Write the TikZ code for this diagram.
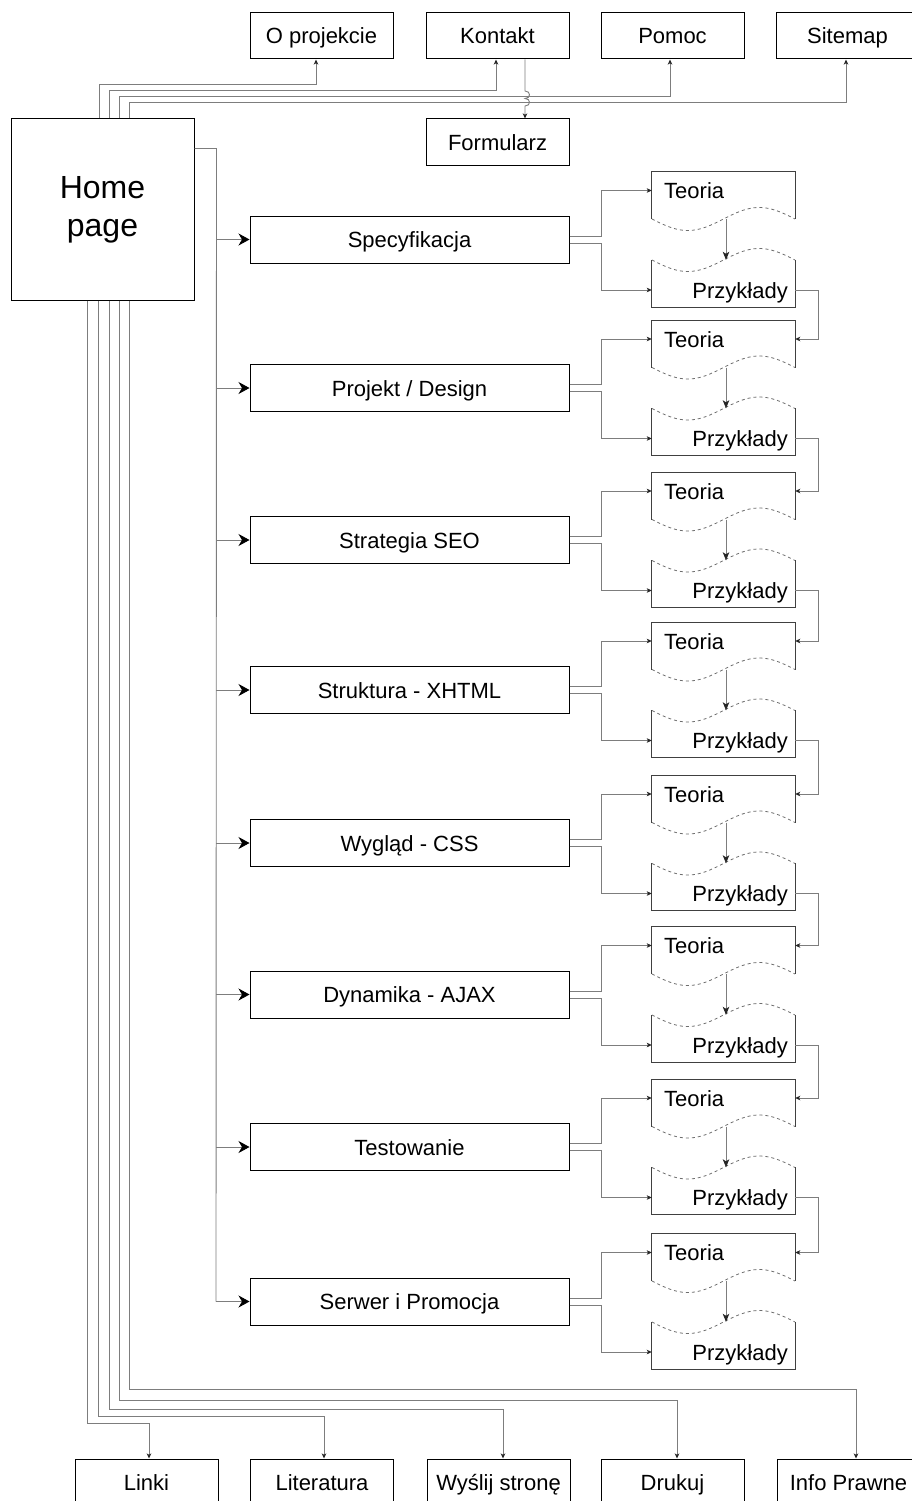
\documentclass[tikz,border=0pt]{standalone}
\usepackage{fontspec}
\setmainfont{Liberation Sans}
\usetikzlibrary{arrows.meta}
\definecolor{conngray}{RGB}{125,125,125}
\definecolor{wavegray}{RGB}{110,110,110}
\begin{document}
\begin{tikzpicture}[x=1pt,y=-1pt,
  box/.style={draw=black, line width=1pt, minimum width=143pt, minimum height=46pt, inner sep=0pt, text height=16pt, text depth=0pt, font=\fontsize{22}{26}\selectfont},
  mainbox/.style={box, minimum width=319pt, minimum height=47pt},
  homebox/.style={draw=black, line width=1pt, minimum width=183pt, minimum height=181pt, inner sep=0pt, align=center, font=\fontsize{32}{38}\selectfont},
  docnode/.style={minimum width=143pt, minimum height=47pt, inner sep=0pt},
  doctext/.style={inner sep=0pt, text height=16pt, text depth=0pt, font=\fontsize{22}{26}\selectfont},
  docborder/.style={draw=black!75, line width=0.9pt},
  wave/.style={draw=wavegray, line width=0.8pt, dash pattern=on 3pt off 3pt},
  conn/.style={draw=conngray, line width=0.9pt},
  sarr/.style={-{Stealth[length=5pt,width=4.5pt,inset=1.2pt,color=black!85]}},
  midarr/.style={-{Stealth[length=8pt,width=6.5pt,inset=2pt,color=black!85]}},
  bigarr/.style={-{Stealth[length=11pt,width=12pt,inset=3.5pt,color=black]}}
]
\useasboundingbox (0,0) rectangle (911,1501);

% top boxes
\node[box] (op) at (321.5,36) {O projekcie};
\node[box] (kon) at (497.5,36) {Kontakt};
\node[box] (pom) at (672.5,36) {Pomoc};
\node[box] (site) at (847.5,36) {Sitemap};
\node[box] (form) at (497.5,142) {Formularz};

% home
\node[homebox] (home) at (102.5,209.5) {Home\\page};

% bottom boxes
\node[box] (linki) at (146.5,1482) {Linki};
\node[box] (lit) at (322,1482) {Literatura};
\node[box] (wys) at (498.5,1482) {Wyślij stronę};
\node[box] (druk) at (672.5,1482) {Drukuj};
\node[box] (info) at (848.5,1482) {Info Prawne};

% top connectors
\draw[conn,sarr] (99,0 |- home.north) -- (99,84) -| (316,0 |- op.south);
\draw[conn,sarr] (109,0 |- home.north) -- (109,90) -| (496,0 |- kon.south);
\draw[conn,sarr] (119,0 |- home.north) -- (119,96) -| (670,0 |- pom.south);
\draw[conn,sarr] (129,0 |- home.north) -- (129,102) -| (846,0 |- site.south);
\draw[conn,sarr] (525,0 |- kon.south) -- (525,91)
  .. controls (531,91) and (531,98.5) .. (525,98.5)
  .. controls (531,98.5) and (531,106) .. (525,106) -- (525,0 |- form.north);

% bottom connectors
\draw[conn,sarr] (87,0 |- home.south) -- (87,1423) -| (149,0 |- linki.north);
\draw[conn,sarr] (98,0 |- home.south) -- (98,1416) -| (324,0 |- lit.north);
\draw[conn,sarr] (109,0 |- home.south) -- (109,1409) -| (503,0 |- wys.north);
\draw[conn,sarr] (119,0 |- home.south) -- (119,1400) -| (677,0 |- druk.north);
\draw[conn,sarr] (129,0 |- home.south) -- (129,1389) -| (856,0 |- info.north);

% main sections
\foreach \i/\cy/\lbl in {1/239.5/Specyfikacja, 2/388/{Projekt / Design}, 3/540/Strategia SEO, 4/690/Struktura - XHTML, 5/843/Wygląd - CSS, 6/994.5/Dynamika - AJAX, 7/1147/Testowanie, 8/1301.5/Serwer i Promocja}{
  \node[mainbox] (m\i) at (409.5,\cy) {\lbl};
  \node[docnode] (t\i) at (723.5,{\cy-44}) {};
  \node[docnode] (p\i) at (723.5,{\cy+44}) {};
  \node[doctext, anchor=west] (tt\i) at (664,{\cy-49}) {Teoria};
  \node[doctext, anchor=east] (pt\i) at (788,{\cy+50.5}) {Przykłady};
  \draw[docborder] (t\i.south west) -- (t\i.north west) -- (t\i.north east) -- (t\i.south east);
  \draw[wave] plot[domain=0:143, samples=60, smooth] ({652+\x},{\cy-20.5+11.5*sin(\x/143*360)});
  \draw[docborder] (p\i.north west) -- (p\i.south west) -- (p\i.south east) -- (p\i.north east);
  \draw[wave] plot[domain=0:143, samples=60, smooth] ({652+\x},{\cy+20.5+11.5*sin(\x/143*360)});
  \draw[conn,midarr] (726,0 |- t\i.south) -- (726,0 |- p\i.north);
  \draw[conn,sarr] ([yshift=3.5pt]m\i.east) -- ++(32,0) |- (t\i.west |- tt\i);
  \draw[conn,sarr] ([yshift=-3.5pt]m\i.east) -- ++(32,0) |- (p\i.west |- pt\i);
  \draw[conn,bigarr] (216,0 |- m\i.west) -- (m\i.west);
}

% home right trunk
\draw[conn] ([yshift=-30pt]home.north east) -- ++(22,0) -- (216,0 |- m8.west);

% chain Przyklady -> next Teoria
\foreach \i in {1,...,7}{
  \pgfmathtruncatemacro\j{\i+1}
  \draw[conn,sarr] (p\i.east |- pt\i) -- ++(23,0) |- (t\j.east |- tt\j);
}
\end{tikzpicture}
\end{document}
